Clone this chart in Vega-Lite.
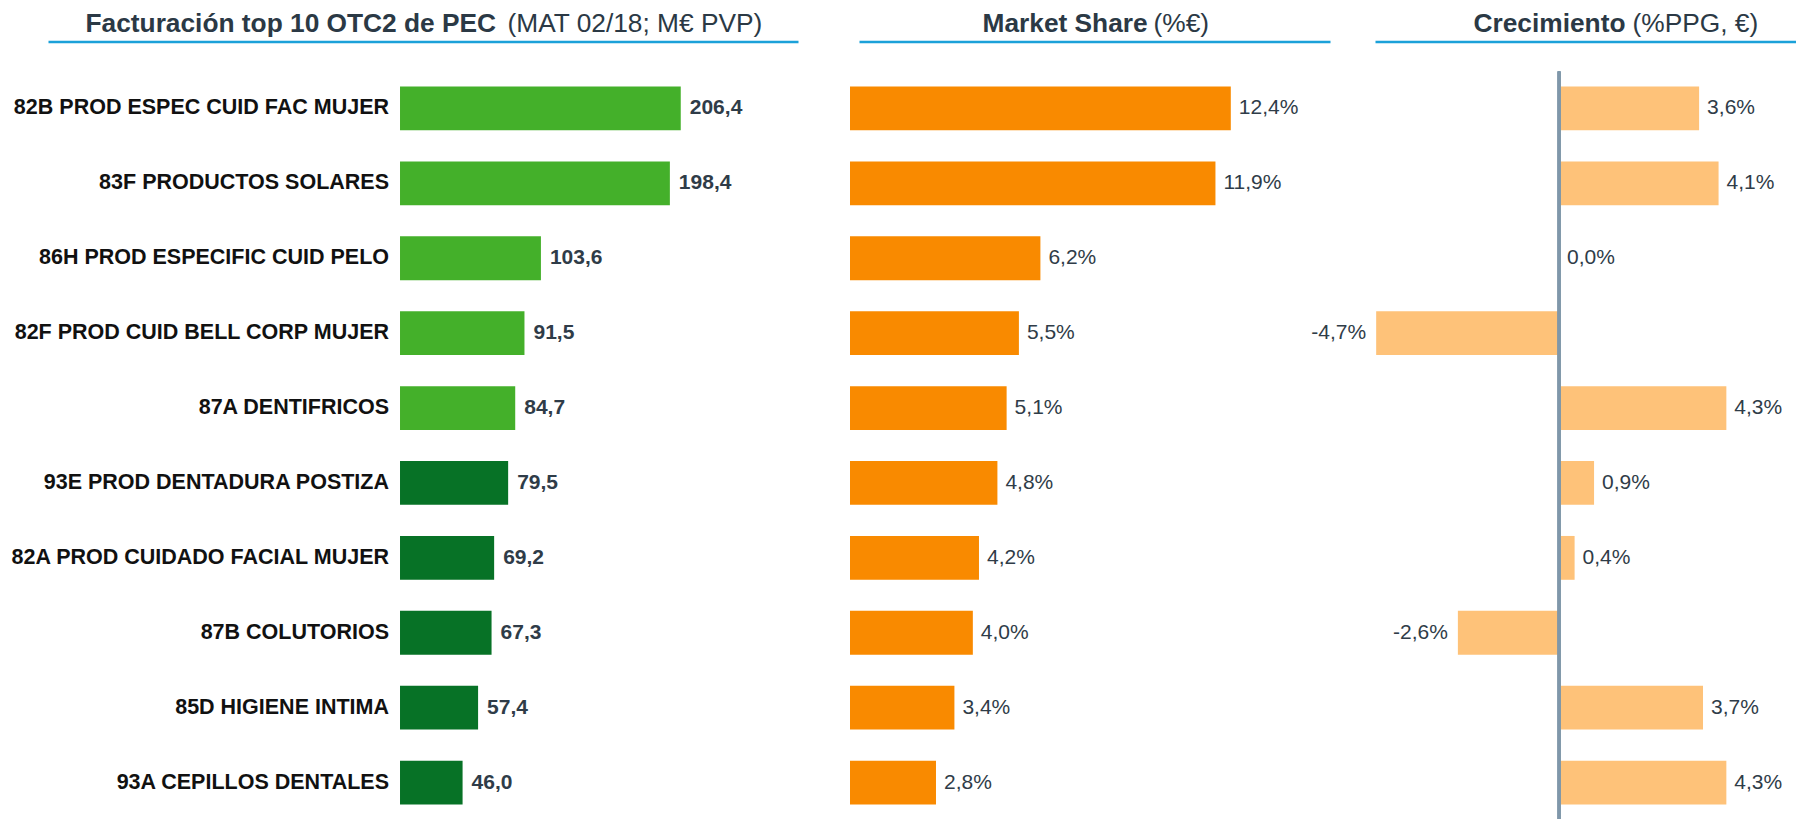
{
  "$schema": "https://vega.github.io/schema/vega-lite/v6.json",
  "padding": {"left": 10, "top": 9.5, "right": 0, "bottom": 0},
  "data": {"values": [
    {"cat": "82B PROD ESPEC CUID FAC MUJER", "fact": 206.4, "share": 0.124, "crec": 0.036},
    {"cat": "83F PRODUCTOS SOLARES", "fact": 198.4, "share": 0.119, "crec": 0.041},
    {"cat": "86H PROD ESPECIFIC CUID PELO", "fact": 103.6, "share": 0.062, "crec": 0.0},
    {"cat": "82F PROD CUID BELL CORP MUJER", "fact": 91.5, "share": 0.055, "crec": -0.047},
    {"cat": "87A DENTIFRICOS", "fact": 84.7, "share": 0.051, "crec": 0.043},
    {"cat": "93E PROD DENTADURA POSTIZA", "fact": 79.5, "share": 0.048, "crec": 0.009},
    {"cat": "82A PROD CUIDADO FACIAL MUJER", "fact": 69.2, "share": 0.042, "crec": 0.004},
    {"cat": "87B COLUTORIOS", "fact": 67.3, "share": 0.040, "crec": -0.026},
    {"cat": "85D HIGIENE INTIMA", "fact": 57.4, "share": 0.034, "crec": 0.037},
    {"cat": "93A CEPILLOS DENTALES", "fact": 46.0, "share": 0.028, "crec": 0.043}
  ]},
  "bounds": "flush",
  "spacing": 61,
  "hconcat": [
    {
      "width": 750,
      "height": 748,
      "encoding": {
        "y": {"field": "cat", "type": "nominal", "sort": null, "scale": {"paddingInner": 0.415, "paddingOuter": 0.2},
              "axis": {"title": "(MAT 02/18; M€ PVP)", "titleX": 459, "titleY": -40.5}}
      },
      "layer": [
        {
          "mark": {"type": "bar"},
          "encoding": {
            "x": {"field": "fact", "type": "quantitative", "scale": {"domain": [-258.8, 292.6]},
                  "axis": {"orient": "top", "title": "Facturación top 10 OTC2 de PEC", "titleX": 37, "titleY": -10.5}},
            "color": {"condition": {"test": "datum.fact > 80", "value": "#44b02a"}, "value": "#077226"}
          }
        },
        {
          "mark": {"type": "text", "align": "left", "baseline": "middle", "dx": 9, "fontWeight": "bold", "fontSize": 21, "color": "#2f3c48"},
          "encoding": {
            "x": {"field": "fact", "type": "quantitative", "scale": {"domain": [-258.8, 292.6]},
                  "axis": {"orient": "top", "title": "Facturación top 10 OTC2 de PEC", "titleX": 37, "titleY": -10.5}},
            "text": {"field": "fact", "type": "quantitative", "format": ".1f"}
          }
        },
        {
          "mark": {"type": "text", "align": "right", "baseline": "middle", "dx": -11, "fontWeight": "bold", "fontSize": 21.5, "color": "#111111"},
          "encoding": {
            "x": {"datum": 0, "type": "quantitative", "scale": {"domain": [-258.8, 292.6]},
                  "axis": {"orient": "top", "title": "Facturación top 10 OTC2 de PEC", "titleX": 37, "titleY": -10.5}},
            "text": {"field": "cat", "type": "nominal"}
          }
        }
      ]
    },
    {
      "bounds": "flush",
      "spacing": 45,
      "hconcat": [
        {
          "width": 471,
          "height": 748,
          "encoding": {
            "y": {"field": "cat", "type": "nominal", "sort": null, "scale": {"paddingInner": 0.415, "paddingOuter": 0.2},
                  "axis": {"title": "(%€)", "titleX": 294, "titleY": -40.5}}
          },
          "layer": [
            {
              "mark": {"type": "bar", "color": "#f98a00"},
              "encoding": {
                "x": {"field": "share", "type": "quantitative", "scale": {"domain": [0.00293, 0.1563]},
                      "axis": {"orient": "top", "title": "Market Share", "titleX": 123, "titleY": -10.5}}
              }
            },
            {
              "mark": {"type": "text", "align": "left", "baseline": "middle", "dx": 8, "fontSize": 21, "color": "#2f3c48"},
              "encoding": {
                "x": {"field": "share", "type": "quantitative", "scale": {"domain": [0.00293, 0.1563]},
                      "axis": {"orient": "top", "title": "Market Share", "titleX": 123, "titleY": -10.5}},
                "text": {"field": "share", "type": "quantitative", "format": ".1%"}
              }
            }
          ]
        },
        {
          "width": 421,
          "height": 748,
          "layer": [
            {
              "mark": {"type": "bar", "color": "#fec279"},
              "encoding": {
                "y": {"field": "cat", "type": "nominal", "sort": null, "scale": {"paddingInner": 0.415, "paddingOuter": 0.2},
                      "axis": {"title": "(%PPG, €)", "titleX": 257, "titleY": -40.5}},
                "x": {"field": "crec", "type": "quantitative", "scale": {"domain": [-0.0473, 0.0609]},
                      "axis": {"orient": "top", "title": "Crecimiento", "titleX": 98, "titleY": -10.5}}
              }
            },
            {
              "mark": {"type": "rule", "color": "#7f97aa", "strokeWidth": 2.5},
              "encoding": {
                "x": {"datum": 0, "type": "quantitative", "scale": {"domain": [-0.0473, 0.0609]},
                      "axis": {"orient": "top", "title": "Crecimiento", "titleX": 98, "titleY": -10.5}}
              }
            },
            {
              "transform": [{"filter": "datum.crec >= 0"}],
              "mark": {"type": "text", "align": "left", "baseline": "middle", "dx": 8, "fontSize": 21, "color": "#2f3c48"},
              "encoding": {
                "y": {"field": "cat", "type": "nominal", "sort": null, "scale": {"paddingInner": 0.415, "paddingOuter": 0.2},
                      "axis": {"title": "(%PPG, €)", "titleX": 257, "titleY": -40.5}},
                "x": {"field": "crec", "type": "quantitative", "scale": {"domain": [-0.0473, 0.0609]},
                      "axis": {"orient": "top", "title": "Crecimiento", "titleX": 98, "titleY": -10.5}},
                "text": {"field": "crec", "type": "quantitative", "format": ".1%"}
              }
            },
            {
              "transform": [{"filter": "datum.crec < 0"}],
              "mark": {"type": "text", "align": "right", "baseline": "middle", "dx": -10, "fontSize": 21, "color": "#2f3c48"},
              "encoding": {
                "y": {"field": "cat", "type": "nominal", "sort": null, "scale": {"paddingInner": 0.415, "paddingOuter": 0.2},
                      "axis": {"title": "(%PPG, €)", "titleX": 257, "titleY": -40.5}},
                "x": {"field": "crec", "type": "quantitative", "scale": {"domain": [-0.0473, 0.0609]},
                      "axis": {"orient": "top", "title": "Crecimiento", "titleX": 98, "titleY": -10.5}},
                "text": {"field": "crec", "type": "quantitative", "format": ".1%"}
              }
            }
          ]
        }
      ]
    }
  ],
  "config": {
    "view": {"stroke": null},
    "font": "Liberation Sans",
    "axisX": {
      "offset": 30, "domain": true, "domainColor": "#1ba1d9", "domainWidth": 2.5,
      "ticks": false, "labels": false, "grid": false,
      "titleFont": "Liberation Sans", "titleFontSize": 26.3, "titleFontWeight": "bold", "titleColor": "#2b3945",
      "titleAlign": "left", "titleAnchor": "start", "titleAngle": 0, "titleBaseline": "alphabetic", "titlePadding": 0
    },
    "axisY": {
      "offset": 0, "domain": false, "ticks": false, "labels": false, "grid": false,
      "titleFont": "Liberation Sans", "titleFontSize": 26.3, "titleFontWeight": "normal", "titleColor": "#2b3945",
      "titleAlign": "left", "titleAnchor": "start", "titleAngle": 0, "titleBaseline": "alphabetic", "titlePadding": 0
    },
    "locale": {"number": {"decimal": ",", "thousands": ".", "grouping": [3], "currency": ["", " €"], "minus": "-"}}
  }
}
